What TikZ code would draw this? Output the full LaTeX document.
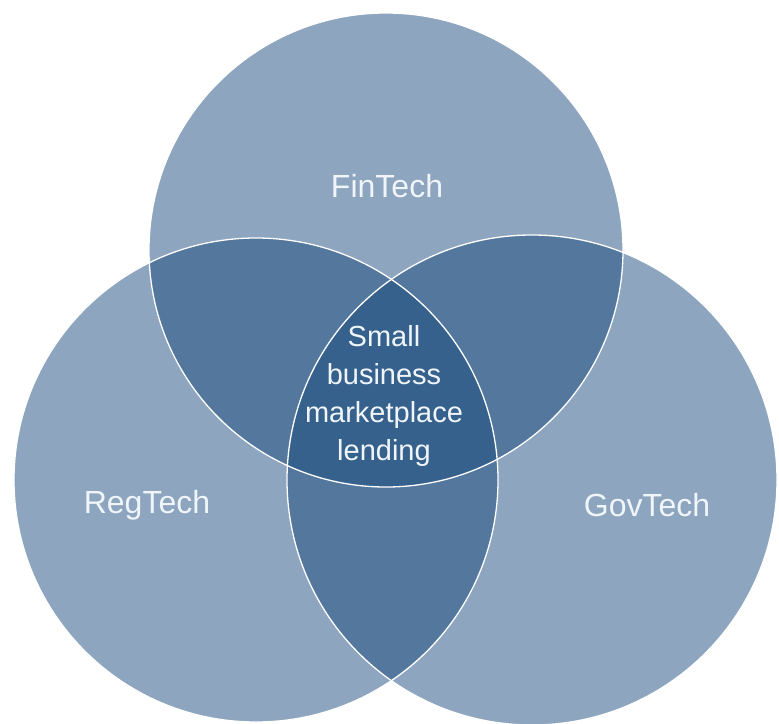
\documentclass[tikz,border=0pt]{standalone}
\usepackage{fontspec}
\setmainfont{Liberation Sans}
\definecolor{vennblue}{RGB}{27,75,125}
\definecolor{labelwhite}{RGB}{240,245,250}
\tikzset{
  venn/.style={fill=vennblue, fill opacity=0.5},
  vennline/.style={draw=white, line width=1.3pt},
  biglabel/.style={text=labelwhite, font=\fontsize{32}{38}\selectfont, inner sep=0pt},
  midlabel/.style={text=labelwhite, font=\fontsize{29}{38}\selectfont, align=center, inner sep=0pt}
}
\begin{document}
\begin{tikzpicture}[x=1pt, y=-1pt]
  \useasboundingbox (0,0) rectangle (779,723);
  \begin{scope}
    \clip (0,0) rectangle (779,723);
    \coordinate (ctop) at (386,250);
    \coordinate (cleft) at (256,480);
    \coordinate (cright) at (532,480);
    \fill[venn] (ctop) circle[radius=237];
    \fill[venn] (cleft) circle[radius=242];
    \fill[venn] (cright) circle[radius=245];
    \draw[vennline] (ctop) circle[radius=237];
    \draw[vennline] (cleft) circle[radius=242];
    \draw[vennline] (cright) circle[radius=245];
  \end{scope}
  \node[biglabel] (fin) at (387,186) {FinTech};
  \node[biglabel] (reg) at (147,505) {RegTech};
  \node[biglabel] (gov) at (647,505) {GovTech};
  \node[midlabel] (mid) at (384,396) {Small\\business\\marketplace\\lending};
\end{tikzpicture}
\end{document}
